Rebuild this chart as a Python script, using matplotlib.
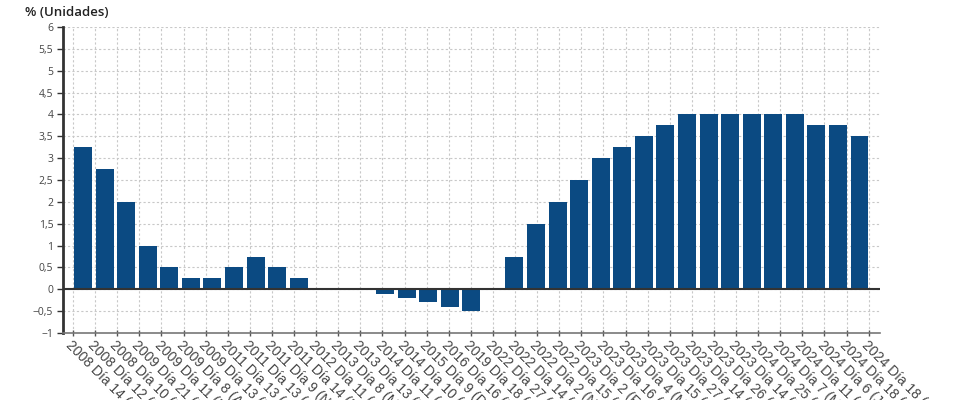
import matplotlib
matplotlib.use("Agg")
import matplotlib.pyplot as plt
import numpy as np
from matplotlib.ticker import FixedLocator, FuncFormatter

years = [2008, 2008, 2008, 2009, 2009, 2009, 2009, 2011, 2011, 2011, 2011, 2012,
         2013, 2013, 2014, 2014, 2015, 2016, 2019, 2022, 2022, 2022, 2022,
         2023, 2023, 2023, 2023, 2023, 2023, 2023, 2023, 2024, 2024, 2024, 2024, 2024, 2024]
days = [14, 12, 10, 21, 11, 8, 13, 13, 13, 9, 14, 11, 8, 13, 11, 10, 9, 16, 18,
        27, 14, 2, 15, 2, 16, 4, 15, 27, 14, 26, 14, 25, 7, 11, 6, 18, 18]
months = ["Octubre", "Noviembre", "Diciembre", "Enero", "Marzo", "Abril", "Mayo",
          "Abril", "Julio", "Noviembre", "Diciembre", "Julio", "Mayo", "Noviembre",
          "Junio", "Septiembre", "Diciembre", "Marzo", "Septiembre", "Julio",
          "Septiembre", "Noviembre", "Diciembre", "Febrero", "Marzo", "Mayo", "Junio",
          "Julio", "Septiembre", "Octubre", "Diciembre", "Enero", "Marzo", "Abril",
          "Junio", "Julio", "Septiembre"]
values = [3.25, 2.75, 2.0, 1.0, 0.5, 0.25, 0.25, 0.5, 0.75, 0.5, 0.25, 0.0,
          0.0, 0.0, -0.1, -0.2, -0.3, -0.4, -0.5, 0.0, 0.75, 1.5, 2.0,
          2.5, 3.0, 3.25, 3.5, 3.75, 4.0, 4.0, 4.0, 4.0, 4.0, 4.0, 3.75, 3.75, 3.5]
labels = [f"{y} Día {d} ({m})" for y, d, m in zip(years, days, months)]
y_title = "% (Unidades)"

fig = plt.figure(figsize=(9.8, 4.0), dpi=100)
ax = fig.add_axes([0.0643, 0.1675, 0.8337, 0.765])

x = np.arange(len(values))
ax.bar(x, values, width=0.83, color="#0b4a82", zorder=3)

# category ticks (slightly different spacing than bars, as in reference)
n = len(values)
tick_pos = -0.4636 + 1.0246 * np.arange(n)
ax.set_xlim(-0.927, 36.95)
ax.set_ylim(-1, 6)
ax.xaxis.set_major_locator(FixedLocator(tick_pos))
ax.set_xticklabels(labels, rotation=-45, ha="left", va="top",
                   rotation_mode="anchor", fontsize=10,
                   family="Liberation Sans", color="#444444")
ax.set_yticks(np.arange(-1, 6.01, 0.5))
ax.yaxis.set_major_formatter(FuncFormatter(
    lambda v, p: (f"{v:g}".replace(".", ",").replace("-", "\u2212"))))
for t in ax.get_yticklabels():
    t.set_family("Open Sans")
    t.set_fontsize(7.5)
    t.set_color("#444444")

ax.grid(True, which="major", axis="both", linestyle=(0, (2, 2)),
        color="#c8c8c8", linewidth=0.8, zorder=0)
ax.axhline(0, color="#333333", linewidth=1.5, zorder=4)

for s in ["top", "right"]:
    ax.spines[s].set_visible(False)
ax.spines["left"].set_color("#333333")
ax.spines["left"].set_linewidth(2)
ax.spines["bottom"].set_color("#777777")
ax.spines["bottom"].set_linestyle((0, (2, 1)))
ax.spines["bottom"].set_linewidth(1.2)
ax.tick_params(axis="y", length=4, width=1, color="#333333", pad=3)
ax.tick_params(axis="x", length=4, width=1, color="#555555", direction="inout", pad=2)

fig.text(0.026, 0.97, y_title, ha="left", va="center", fontsize=9.5,
         family="Open Sans", fontweight="semibold", color="#222222")

fig.savefig("out.png", dpi=100)
